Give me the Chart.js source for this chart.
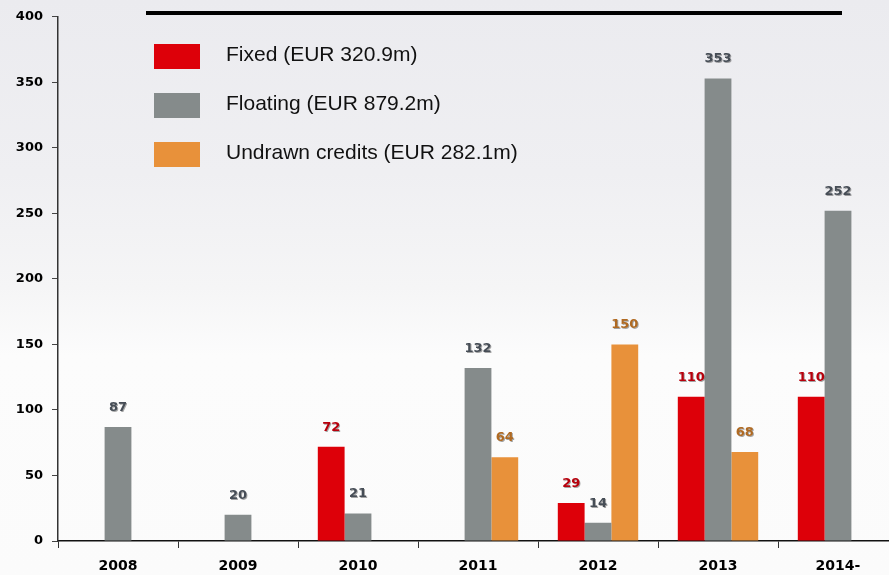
<!DOCTYPE html>
<html>
<head>
<meta charset="utf-8">
<script src="https://cdn.jsdelivr.net/npm/chart.js@4"></script>
<style>
html,body{margin:0;padding:0;overflow:hidden;width:889px;height:575px;}
body{background:linear-gradient(#ebebef 0%,#efeff2 30%,#f5f5f6 50%,#fcfcfc 62%,#fbfbfb 100%);position:relative;font-family:"Liberation Sans",Arial,sans-serif;}
#wrap{position:absolute;left:0;top:0;width:900px;height:575px;}
#topline{position:absolute;left:146px;top:11px;width:696px;height:4px;background:#000;}
#legend{position:absolute;left:154px;top:44px;}
.item{height:25px;margin-bottom:24px;display:flex;align-items:center;}
.sw{width:46px;height:25px;margin-right:26px;}
.lbl{font-size:21px;color:#111;margin-top:-6px;}
</style>
</head>
<body>
<div id="wrap"><canvas id="c" width="900" height="575"></canvas></div>
<div id="topline"></div>
<div id="legend"></div>
<script>
const years=['2008','2009','2010','2011','2012','2013','2014-'];
const fixed=[null,null,72,null,29,110,110];
const floating=[87,20,21,132,14,353,252];
const undrawn=[null,null,null,64,150,68,null];
const seriesNames=['Fixed (EUR 320.9m)','Floating (EUR 879.2m)','Undrawn credits (EUR 282.1m)'];
const barColors=['#dd0009','#858b8b','#e8913a'];
const valueColors=['#b8000c','#464d56','#b06a22'];
const yTicks=[0,50,100,150,200,250,300,350,400];

const valueLabels={
  id:'valueLabels',
  afterDatasetsDraw(chart){
    const ctx=chart.ctx;
    ctx.save();
    ctx.font='bold 13px "DejaVu Sans"';
    ctx.textAlign='center';
    ctx.textBaseline='bottom';
    chart.data.datasets.forEach((ds,i)=>{
      chart.getDatasetMeta(i).data.forEach((bar,j)=>{
        const v=ds.data[j];
        if(v==null)return;
        ctx.shadowColor='rgba(0,0,0,0.35)';ctx.shadowOffsetX=1;ctx.shadowOffsetY=1;ctx.shadowBlur=0;
        ctx.fillStyle=valueColors[i];
        ctx.fillText(String(v),bar.x,bar.y-13);
      });
    });
    ctx.restore();
  }
};

const chart=new Chart(document.getElementById('c'),{
  type:'bar',
  data:{labels:years,datasets:[
    {label:seriesNames[0],data:fixed,backgroundColor:barColors[0]},
    {label:seriesNames[1],data:floating,backgroundColor:barColors[1]},
    {label:seriesNames[2],data:undrawn,backgroundColor:barColors[2]}
  ]},
  options:{
    responsive:false,animation:false,
    layout:{padding:{top:14,right:2,left:0,bottom:0}},
    datasets:{bar:{categoryPercentage:0.67,barPercentage:1,borderWidth:0}},
    plugins:{legend:{display:false},tooltip:{enabled:false}},
    scales:{
      x:{
        afterFit:s=>{s.height=34;},
        grid:{offset:true,drawOnChartArea:false,drawTicks:true,tickLength:7,color:'#333'},
        border:{display:true,color:'#111',width:1.5},
        ticks:{color:'#000',font:{family:'"DejaVu Sans"',weight:'bold',size:14},padding:10}
      },
      y:{
        min:0,max:400,
        afterFit:s=>{s.width=58;},
        afterBuildTicks:s=>{s.ticks=yTicks.map(v=>({value:v}));},
        grid:{drawOnChartArea:false,drawTicks:true,tickLength:6,color:'#444'},
        border:{display:true,color:'#333',width:1.5},
        ticks:{color:'#000',font:{family:'"DejaVu Sans"',weight:'bold',size:13},padding:9}
      }
    }
  },
  plugins:[valueLabels]
});

const leg=document.getElementById('legend');
chart.data.datasets.forEach(ds=>{
  const row=document.createElement('div');row.className='item';
  const sw=document.createElement('div');sw.className='sw';sw.style.background=ds.backgroundColor;
  const t=document.createElement('div');t.className='lbl';t.textContent=ds.label;
  row.appendChild(sw);row.appendChild(t);leg.appendChild(row);
});
</script>
</body>
</html>
